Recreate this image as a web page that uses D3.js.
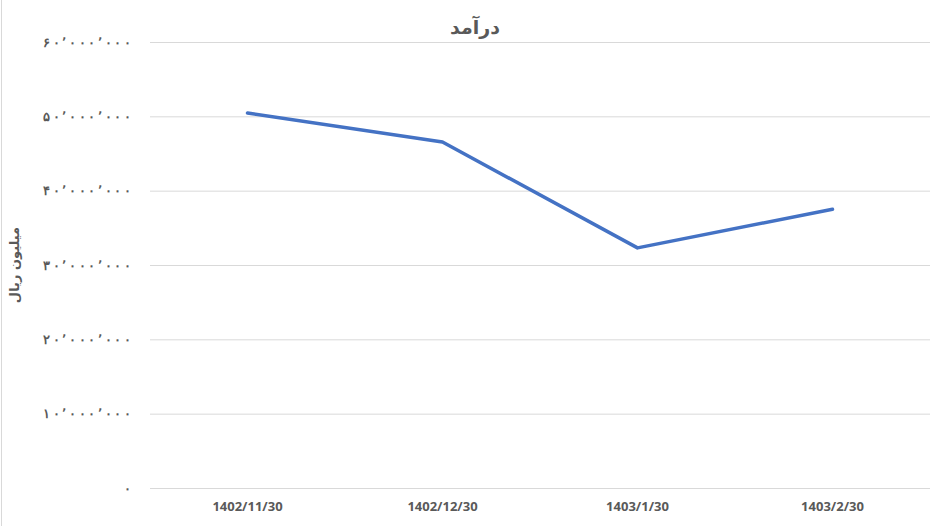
<!DOCTYPE html>
<html><head><meta charset="utf-8">
<script src="https://cdn.jsdelivr.net/npm/d3@7"></script>
<style>body{margin:0;background:#fff;}svg{display:block;font-family:"DejaVu Sans",sans-serif;}</style>
</head><body>
<svg id="c" width="947" height="526"></svg>
<script>
const categories = ["1402/11/30","1402/12/30","1403/1/30","1403/2/30"];
const values = [50450000, 46550000, 32300000, 37500000];
const yTicks = [0,10000000,20000000,30000000,40000000,50000000,60000000];
const title = "درآمد";
const yTitle = "میلیون ریال";

const svg = d3.select("#c");
const W=947,H=526;
const m={l:150,r:930,t:42,b:488};
const x=d3.scaleBand().domain(categories).range([m.l,m.r]);
const y=d3.scaleLinear().domain([0,60000000]).range([m.b,m.t]);

svg.append("line").attr("x1",1.5).attr("x2",1.5).attr("y1",0).attr("y2",H).attr("stroke","#d9d9d9").attr("stroke-width",1);

const fa = n => {
  const s = d3.format(",")(n);
  return s.replace(/\d/g,d=>"۰۱۲۳۴۵۶۷۸۹"[+d]).replace(/,/g,"٬");
};

const ya=d3.axisLeft(y).tickValues(yTicks).tickSize(-(m.r-m.l)).tickFormat(fa).tickPadding(19);
const g=svg.append("g").attr("transform",`translate(${m.l},0)`).call(ya);
g.select(".domain").remove();
g.selectAll(".tick line").attr("stroke","#d9d9d9").attr("stroke-width",1);
g.selectAll(".tick text").attr("fill","#595959").attr("font-size",13).attr("font-weight","bold")
  .attr("direction","ltr")
  .each(function(d){ if(d>0){ d3.select(this).attr("textLength",88).attr("lengthAdjust","spacing"); } });

const xa=d3.axisBottom(x).tickSize(0).tickPadding(14);
const gx=svg.append("g").attr("transform",`translate(0,${m.b})`).call(xa);
gx.select(".domain").remove();
gx.selectAll(".tick text").attr("fill","#595959").attr("font-size",13).attr("font-weight","bold").attr("font-family","'Open Sans',sans-serif");

const line=d3.line().x((d,i)=>x(categories[i])+x.bandwidth()/2).y(d=>y(d));
svg.append("path").datum(values).attr("d",line).attr("fill","none").attr("stroke","#4472C4").attr("stroke-width",3.5).attr("stroke-linejoin","round").attr("stroke-linecap","round");

svg.append("text").attr("x",475).attr("y",34).attr("text-anchor","middle").attr("font-size",19).attr("font-weight","bold").attr("fill","#595959").text(title);
svg.append("text").attr("transform","translate(19,265) rotate(-90)").attr("text-anchor","middle").attr("font-size",13).attr("font-weight","bold").attr("fill","#595959").text(yTitle);
</script>
</body></html>
